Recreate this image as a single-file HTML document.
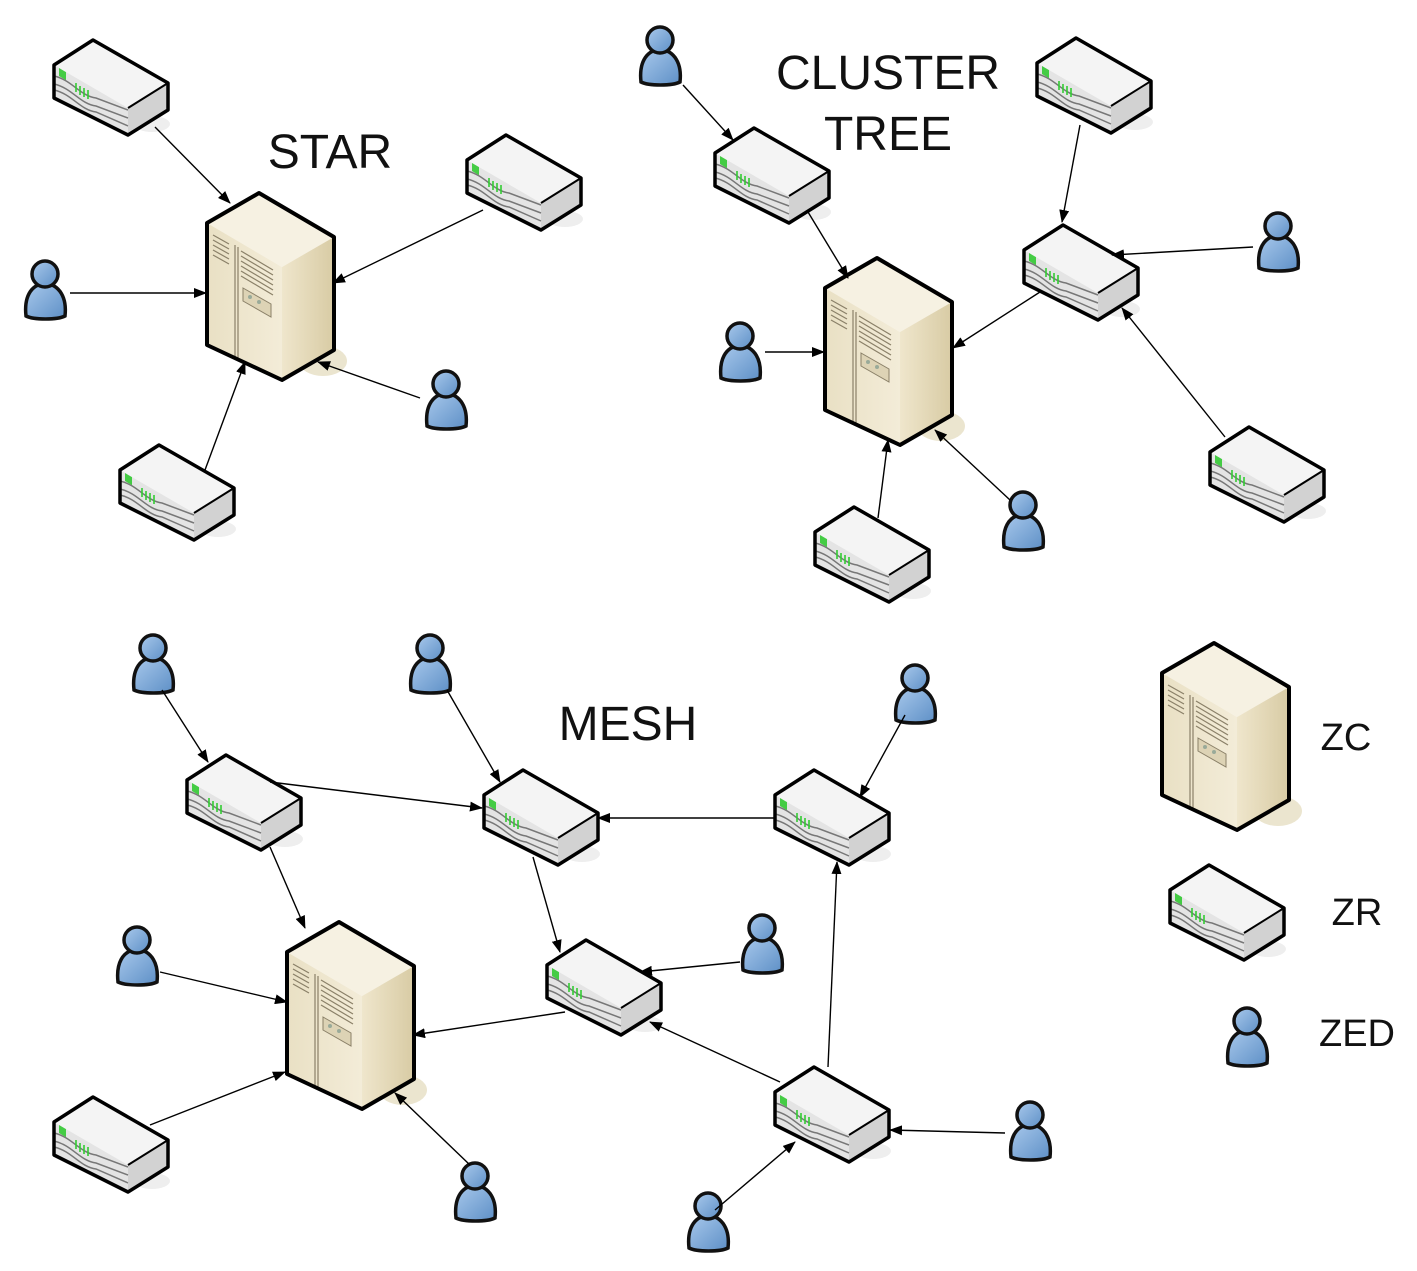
<!DOCTYPE html>
<html><head><meta charset="utf-8"><style>
html,body{margin:0;padding:0;background:#fff;}
svg{display:block;}
text{font-family:"Liberation Sans",sans-serif;fill:#111;}
</style></head><body>
<svg width="1417" height="1271" viewBox="0 0 1417 1271" xmlns="http://www.w3.org/2000/svg">
<defs>
<marker id="ah" markerWidth="13" markerHeight="10" refX="12" refY="5" orient="auto" markerUnits="userSpaceOnUse">
<path d="M0,0 L13,5 L0,10 Z" fill="#000"/></marker>
<linearGradient id="sl" x1="0" y1="0" x2="1" y2="0"><stop offset="0" stop-color="#e9e0c4"/><stop offset="1" stop-color="#f3ecd8"/></linearGradient>
<linearGradient id="sr" x1="0" y1="0" x2="1" y2="0"><stop offset="0" stop-color="#efe6cc"/><stop offset="1" stop-color="#d8cba4"/></linearGradient>
<linearGradient id="pb" x1="0" y1="0" x2="1" y2="1"><stop offset="0" stop-color="#a9c9ec"/><stop offset="1" stop-color="#5d8fc6"/></linearGradient>
<g id="srv">
<ellipse cx="118" cy="168" rx="24" ry="15" fill="#ebe5cf"/>
<polygon points="2,30 54,0 129,44 77,74" fill="#f6f1e2"/>
<polygon points="2,30 77,74 77,187 2,152" fill="url(#sl)"/>
<polygon points="77,74 129,44 129,157 77,187" fill="url(#sr)"/>
<g stroke="#8a8068" stroke-width="1.2">
<line x1="8" y1="42" x2="24" y2="51"/><line x1="8" y1="47" x2="24" y2="56"/><line x1="8" y1="52" x2="24" y2="61"/><line x1="8" y1="57" x2="24" y2="66"/><line x1="8" y1="62" x2="24" y2="71"/>
<line x1="36" y1="58" x2="68" y2="77"/><line x1="36" y1="63" x2="68" y2="82"/><line x1="36" y1="68" x2="68" y2="87"/><line x1="36" y1="73" x2="68" y2="92"/><line x1="36" y1="78" x2="68" y2="97"/><line x1="36" y1="83" x2="68" y2="102"/>
<line x1="30" y1="52" x2="30" y2="165"/><line x1="33" y1="54" x2="33" y2="167"/>
</g>
<polygon points="38,95 66,111 66,124 38,108" fill="#ddd3b5" stroke="#8a8068"/>
<circle cx="45" cy="104" r="2" fill="#9a9"/><circle cx="54" cy="109" r="2" fill="#9a9"/>
<polygon points="2,30 54,0 129,44 129,157 77,187 2,152" fill="none" stroke="#000" stroke-width="4" stroke-linejoin="round"/>
</g>
<g id="rtr">
<ellipse cx="100" cy="84" rx="18" ry="8" fill="#eeeeee"/>
<polygon points="2,25 41,0 116,43 76,68" fill="#f4f4f4"/>
<polygon points="2,25 76,68 76,95 2,58" fill="#e4e4e4"/>
<polygon points="76,68 116,43 116,70 76,95" fill="#d2d2d2"/>
<path d="M2,36 C20,40 28,56 44,58 L76,70" fill="none" stroke="#777" stroke-width="1.5"/>
<path d="M2,44 C20,48 28,64 44,66 L76,78" fill="none" stroke="#777" stroke-width="1.5"/>
<path d="M2,50 C20,54 28,70 44,72 L76,86" fill="none" stroke="#777" stroke-width="1.5"/>
<rect x="7" y="28" width="7" height="8" fill="#4c4" transform="skewY(30) translate(0,-4)"/>
<g stroke="#3c3" stroke-width="1.6"><line x1="24" y1="43" x2="24" y2="52"/><line x1="28" y1="46" x2="28" y2="55"/><line x1="32" y1="48" x2="32" y2="57"/><line x1="36" y1="50" x2="36" y2="59"/></g>
<polygon points="2,25 41,0 116,43 116,70 76,95 2,58" fill="none" stroke="#000" stroke-width="3.5" stroke-linejoin="round"/>
<line x1="76" y1="68" x2="116" y2="43" stroke="#000" stroke-width="2"/>
</g>
<g id="usr">
<path d="M4,58 C2,40 8,27 23,25 C38,27 45,40 43,58 C35,62 12,62 4,58 Z" fill="url(#pb)" stroke="#111" stroke-width="3.5"/>
<circle cx="23" cy="16" r="13" fill="url(#pb)" stroke="#111" stroke-width="3.5"/>
</g>
</defs>

<use href="#srv" x="205" y="193"/>
<use href="#srv" x="823" y="258"/>
<use href="#srv" x="285" y="922"/>
<use href="#srv" x="1160" y="643"/>

<use href="#rtr" x="52" y="40"/>
<use href="#rtr" x="465" y="135"/>
<use href="#rtr" x="118" y="445"/>
<use href="#rtr" x="713" y="128"/>
<use href="#rtr" x="1035" y="38"/>
<use href="#rtr" x="1022" y="225"/>
<use href="#rtr" x="1208" y="427"/>
<use href="#rtr" x="813" y="507"/>
<use href="#rtr" x="185" y="755"/>
<use href="#rtr" x="482" y="770"/>
<use href="#rtr" x="773" y="770"/>
<use href="#rtr" x="545" y="940"/>
<use href="#rtr" x="773" y="1067"/>
<use href="#rtr" x="52" y="1097"/>
<use href="#rtr" x="1168" y="865"/>

<use href="#usr" x="22" y="258"/>
<use href="#usr" x="423" y="368"/>
<use href="#usr" x="637" y="24"/>
<use href="#usr" x="1255" y="210"/>
<use href="#usr" x="717" y="320"/>
<use href="#usr" x="1000" y="489"/>
<use href="#usr" x="130" y="632"/>
<use href="#usr" x="407" y="632"/>
<use href="#usr" x="892" y="662"/>
<use href="#usr" x="114" y="924"/>
<use href="#usr" x="739" y="912"/>
<use href="#usr" x="452" y="1160"/>
<use href="#usr" x="685" y="1190"/>
<use href="#usr" x="1007" y="1099"/>
<use href="#usr" x="1224" y="1005"/>

<g stroke="#000" stroke-width="1.4" marker-end="url(#ah)">
<line x1="155" y1="127" x2="230" y2="203"/>
<line x1="70" y1="293" x2="206" y2="293"/>
<line x1="483" y1="210" x2="333" y2="283"/>
<line x1="420" y1="398" x2="318" y2="362"/>
<line x1="205" y1="470" x2="245" y2="362"/>
<line x1="683" y1="85" x2="733" y2="140"/>
<line x1="808" y1="212" x2="848" y2="278"/>
<line x1="1080" y1="125" x2="1062" y2="222"/>
<line x1="1253" y1="247" x2="1112" y2="255"/>
<line x1="1040" y1="292" x2="953" y2="348"/>
<line x1="1225" y1="437" x2="1122" y2="308"/>
<line x1="765" y1="352" x2="824" y2="352"/>
<line x1="878" y1="518" x2="888" y2="440"/>
<line x1="1010" y1="500" x2="935" y2="430"/>
<line x1="162" y1="690" x2="208" y2="762"/>
<line x1="447" y1="690" x2="500" y2="782"/>
<line x1="905" y1="715" x2="860" y2="797"/>
<line x1="270" y1="782" x2="482" y2="808"/>
<line x1="775" y1="818" x2="598" y2="818"/>
<line x1="270" y1="847" x2="305" y2="928"/>
<line x1="533" y1="857" x2="560" y2="952"/>
<line x1="160" y1="972" x2="287" y2="1002"/>
<line x1="740" y1="962" x2="640" y2="972"/>
<line x1="565" y1="1012" x2="413" y2="1035"/>
<line x1="150" y1="1125" x2="285" y2="1072"/>
<line x1="470" y1="1165" x2="395" y2="1093"/>
<line x1="780" y1="1082" x2="650" y2="1022"/>
<line x1="828" y1="1067" x2="837" y2="862"/>
<line x1="1005" y1="1133" x2="890" y2="1130"/>
<line x1="715" y1="1210" x2="795" y2="1142"/>
</g>

<text x="330" y="168" font-size="48" text-anchor="middle">STAR</text>
<text x="888" y="89" font-size="48" text-anchor="middle">CLUSTER</text>
<text x="888" y="150" font-size="48" text-anchor="middle">TREE</text>
<text x="628" y="740" font-size="48" text-anchor="middle">MESH</text>
<text x="1346" y="750" font-size="38" text-anchor="middle">ZC</text>
<text x="1357" y="925" font-size="38" text-anchor="middle">ZR</text>
<text x="1357" y="1046" font-size="38" text-anchor="middle">ZED</text>
</svg>
</body></html>
